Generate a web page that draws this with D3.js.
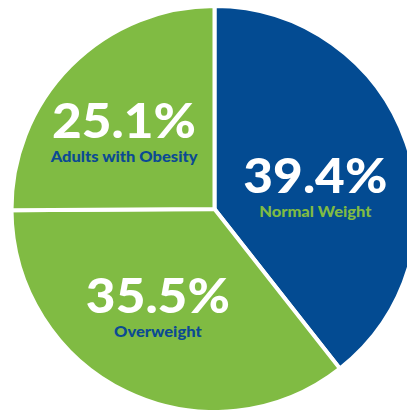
<!DOCTYPE html>
<html>
<head>
<meta charset="utf-8">
<script src="https://cdn.jsdelivr.net/npm/d3@7"></script>
<style>
  html, body { margin: 0; padding: 0; background: #ffffff; }
  svg { display: block; }
</style>
</head>
<body>
<svg id="chart" width="407" height="410"></svg>
<script>
// ---- data ----
const categories = ["Normal Weight", "Overweight", "Adults with Obesity"];
const values = [39.4, 35.5, 25.1];
const valueLabels = ["39.4%", "35.5%", "25.1%"];
const sliceColors = ["#034b92", "#80bb43", "#80bb43"];
const labelColors = ["#80bb43", "#0b4a93", "#0b4a93"];

const data = categories.map((c, i) => ({ category: c, value: values[i], label: valueLabels[i], i }));

// ---- layout ----
const W = 407, H = 410;
const cx = 214.5, cy = 209, R = 203;

const svg = d3.select("#chart");
const g = svg.append("g").attr("transform", `translate(${cx},${cy})`);

const pie = d3.pie().sort(null).value(d => d.value);
const arcs = pie(data);
const arc = d3.arc().innerRadius(0).outerRadius(R);
const labelArc = d3.arc().innerRadius(112).outerRadius(112);

g.selectAll("path.slice")
  .data(arcs)
  .enter().append("path")
  .attr("class", "slice")
  .attr("d", arc)
  .attr("fill", d => sliceColors[d.data.i])
  .attr("stroke", "#ffffff")
  .attr("stroke-width", 4)
  .attr("stroke-linejoin", "miter");

const font = "'Lato', 'Open Sans', 'DejaVu Sans', sans-serif";

// hand-tuned label nudges (layout, not data)
const nudge = [[-5, 16], [-8, -2], [-11, 3]];

const labels = g.selectAll("g.lbl")
  .data(arcs)
  .enter().append("g")
  .attr("class", "lbl")
  .attr("transform", d => {
    const [x, y] = labelArc.centroid(d);
    const n = nudge[d.data.i];
    return `translate(${x + n[0]},${y + n[1]})`;
  });

labels.append("text")
  .attr("text-anchor", "middle")
  .attr("y", 5)
  .attr("font-family", font)
  .attr("font-weight", 900)
  .attr("font-size", 47)
  .attr("fill", "#ffffff")
  .attr("textLength", 144)
  .attr("lengthAdjust", "spacingAndGlyphs")
  .text(d => d.data.label);

labels.append("text")
  .attr("class", "sub")
  .attr("text-anchor", "middle")
  .attr("y", 29)
  .attr("font-family", font)
  .attr("font-weight", 900)
  .attr("font-size", 15)
  .attr("fill", d => labelColors[d.data.i])
  .text(d => d.data.category)
  .each(function () {
    const len = this.getComputedTextLength();
    d3.select(this).attr("textLength", len * 1.1).attr("lengthAdjust", "spacingAndGlyphs");
  });
</script>
</body>
</html>
